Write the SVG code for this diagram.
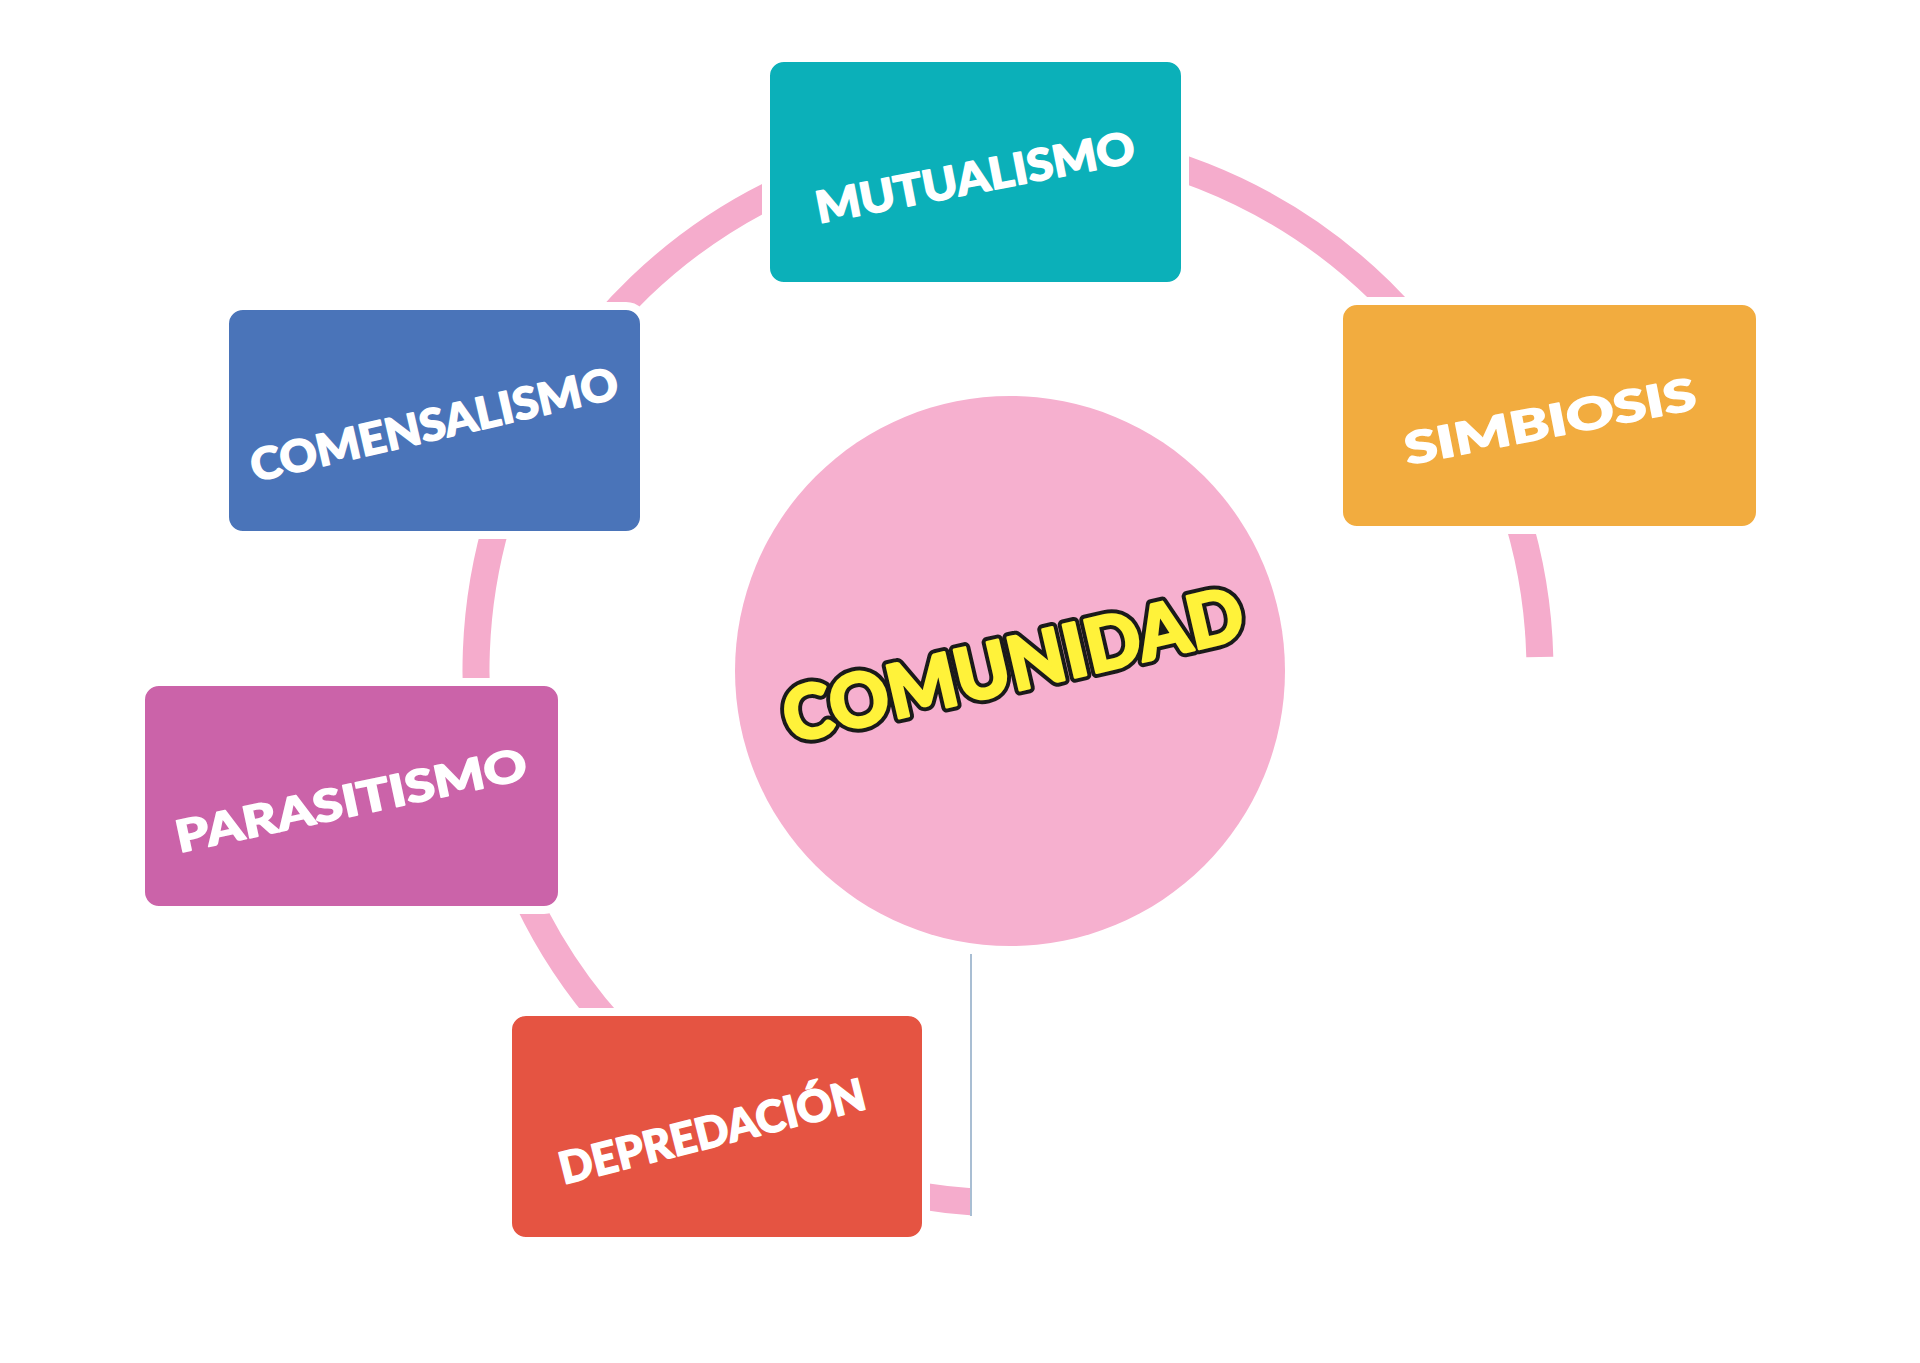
<svg xmlns="http://www.w3.org/2000/svg" width="1920" height="1363" viewBox="0 0 1920 1363">
  <style>
    .box { stroke: #ffffff; stroke-width: 8; }
    .lbl { font-family: Lato, "Open Sans", "Liberation Sans", sans-serif; font-weight: 900; font-size: 44px; fill: #ffffff; stroke: #ffffff; stroke-width: 1.5; stroke-linejoin: round; text-anchor: middle; }
    .title { font-family: Lato, "Open Sans", "Liberation Sans", sans-serif; font-weight: 900; font-size: 74px; text-anchor: middle; stroke-linejoin: round; }
    .title-out { fill: #1a1a1a; stroke: #1a1a1a; stroke-width: 11; }
    .title-in { fill: #FFF23A; stroke: #FFF23A; stroke-width: 3; }
  </style>
  <rect width="1920" height="1363" fill="#ffffff"/>
  <g id="connectors">
    <path d="M 1539.8 657 A 532 532 0 1 0 971 1201.7" fill="none" stroke="#F5ACCC" stroke-width="27" stroke-linecap="butt"/>
    <line x1="971" y1="954" x2="971" y2="1216" stroke="#A9BED3" stroke-width="2"/>
  </g>
  <g id="comunidad">
    <circle cx="1010" cy="671" r="275" fill="#F6B0CF"/>
    <text class="title title-out" x="1013" y="691" textLength="470" lengthAdjust="spacingAndGlyphs" transform="rotate(-13 1013 664)">COMUNIDAD</text>
    <text class="title title-in" x="1013" y="691" textLength="470" lengthAdjust="spacingAndGlyphs" transform="rotate(-13 1013 664)">COMUNIDAD</text>
  </g>
  <g id="mutualismo">
    <rect class="box" x="766" y="58" width="419" height="228" rx="18" fill="#0BB0B9"/>
    <text class="lbl" x="975" y="193" textLength="324" lengthAdjust="spacingAndGlyphs" transform="rotate(-11 975 177)">MUTUALISMO</text>
  </g>
  <g id="simbiosis">
    <rect class="box" x="1339" y="301" width="421" height="229" rx="18" fill="#F2AC3F"/>
    <text class="lbl" x="1550" y="437" textLength="296" lengthAdjust="spacingAndGlyphs" transform="rotate(-11 1550 421)">SIMBIOSIS</text>
  </g>
  <g id="comensalismo">
    <rect class="box" x="225" y="306" width="419" height="229" rx="18" fill="#4A74B9"/>
    <text class="lbl" x="434" y="440" textLength="376" lengthAdjust="spacingAndGlyphs" transform="rotate(-13 434 424)">COMENSALISMO</text>
  </g>
  <g id="parasitismo">
    <rect class="box" x="141" y="682" width="421" height="228" rx="18" fill="#CB63A9"/>
    <text class="lbl" x="351" y="816" textLength="358" lengthAdjust="spacingAndGlyphs" transform="rotate(-12 351 800)">PARASITISMO</text>
  </g>
  <g id="depredacion">
    <rect class="box" x="508" y="1012" width="418" height="229" rx="18" fill="#E55442"/>
    <text class="lbl" x="712" y="1147" textLength="314" lengthAdjust="spacingAndGlyphs" transform="rotate(-14 712 1131)">DEPREDACIÓN</text>
  </g>
</svg>
